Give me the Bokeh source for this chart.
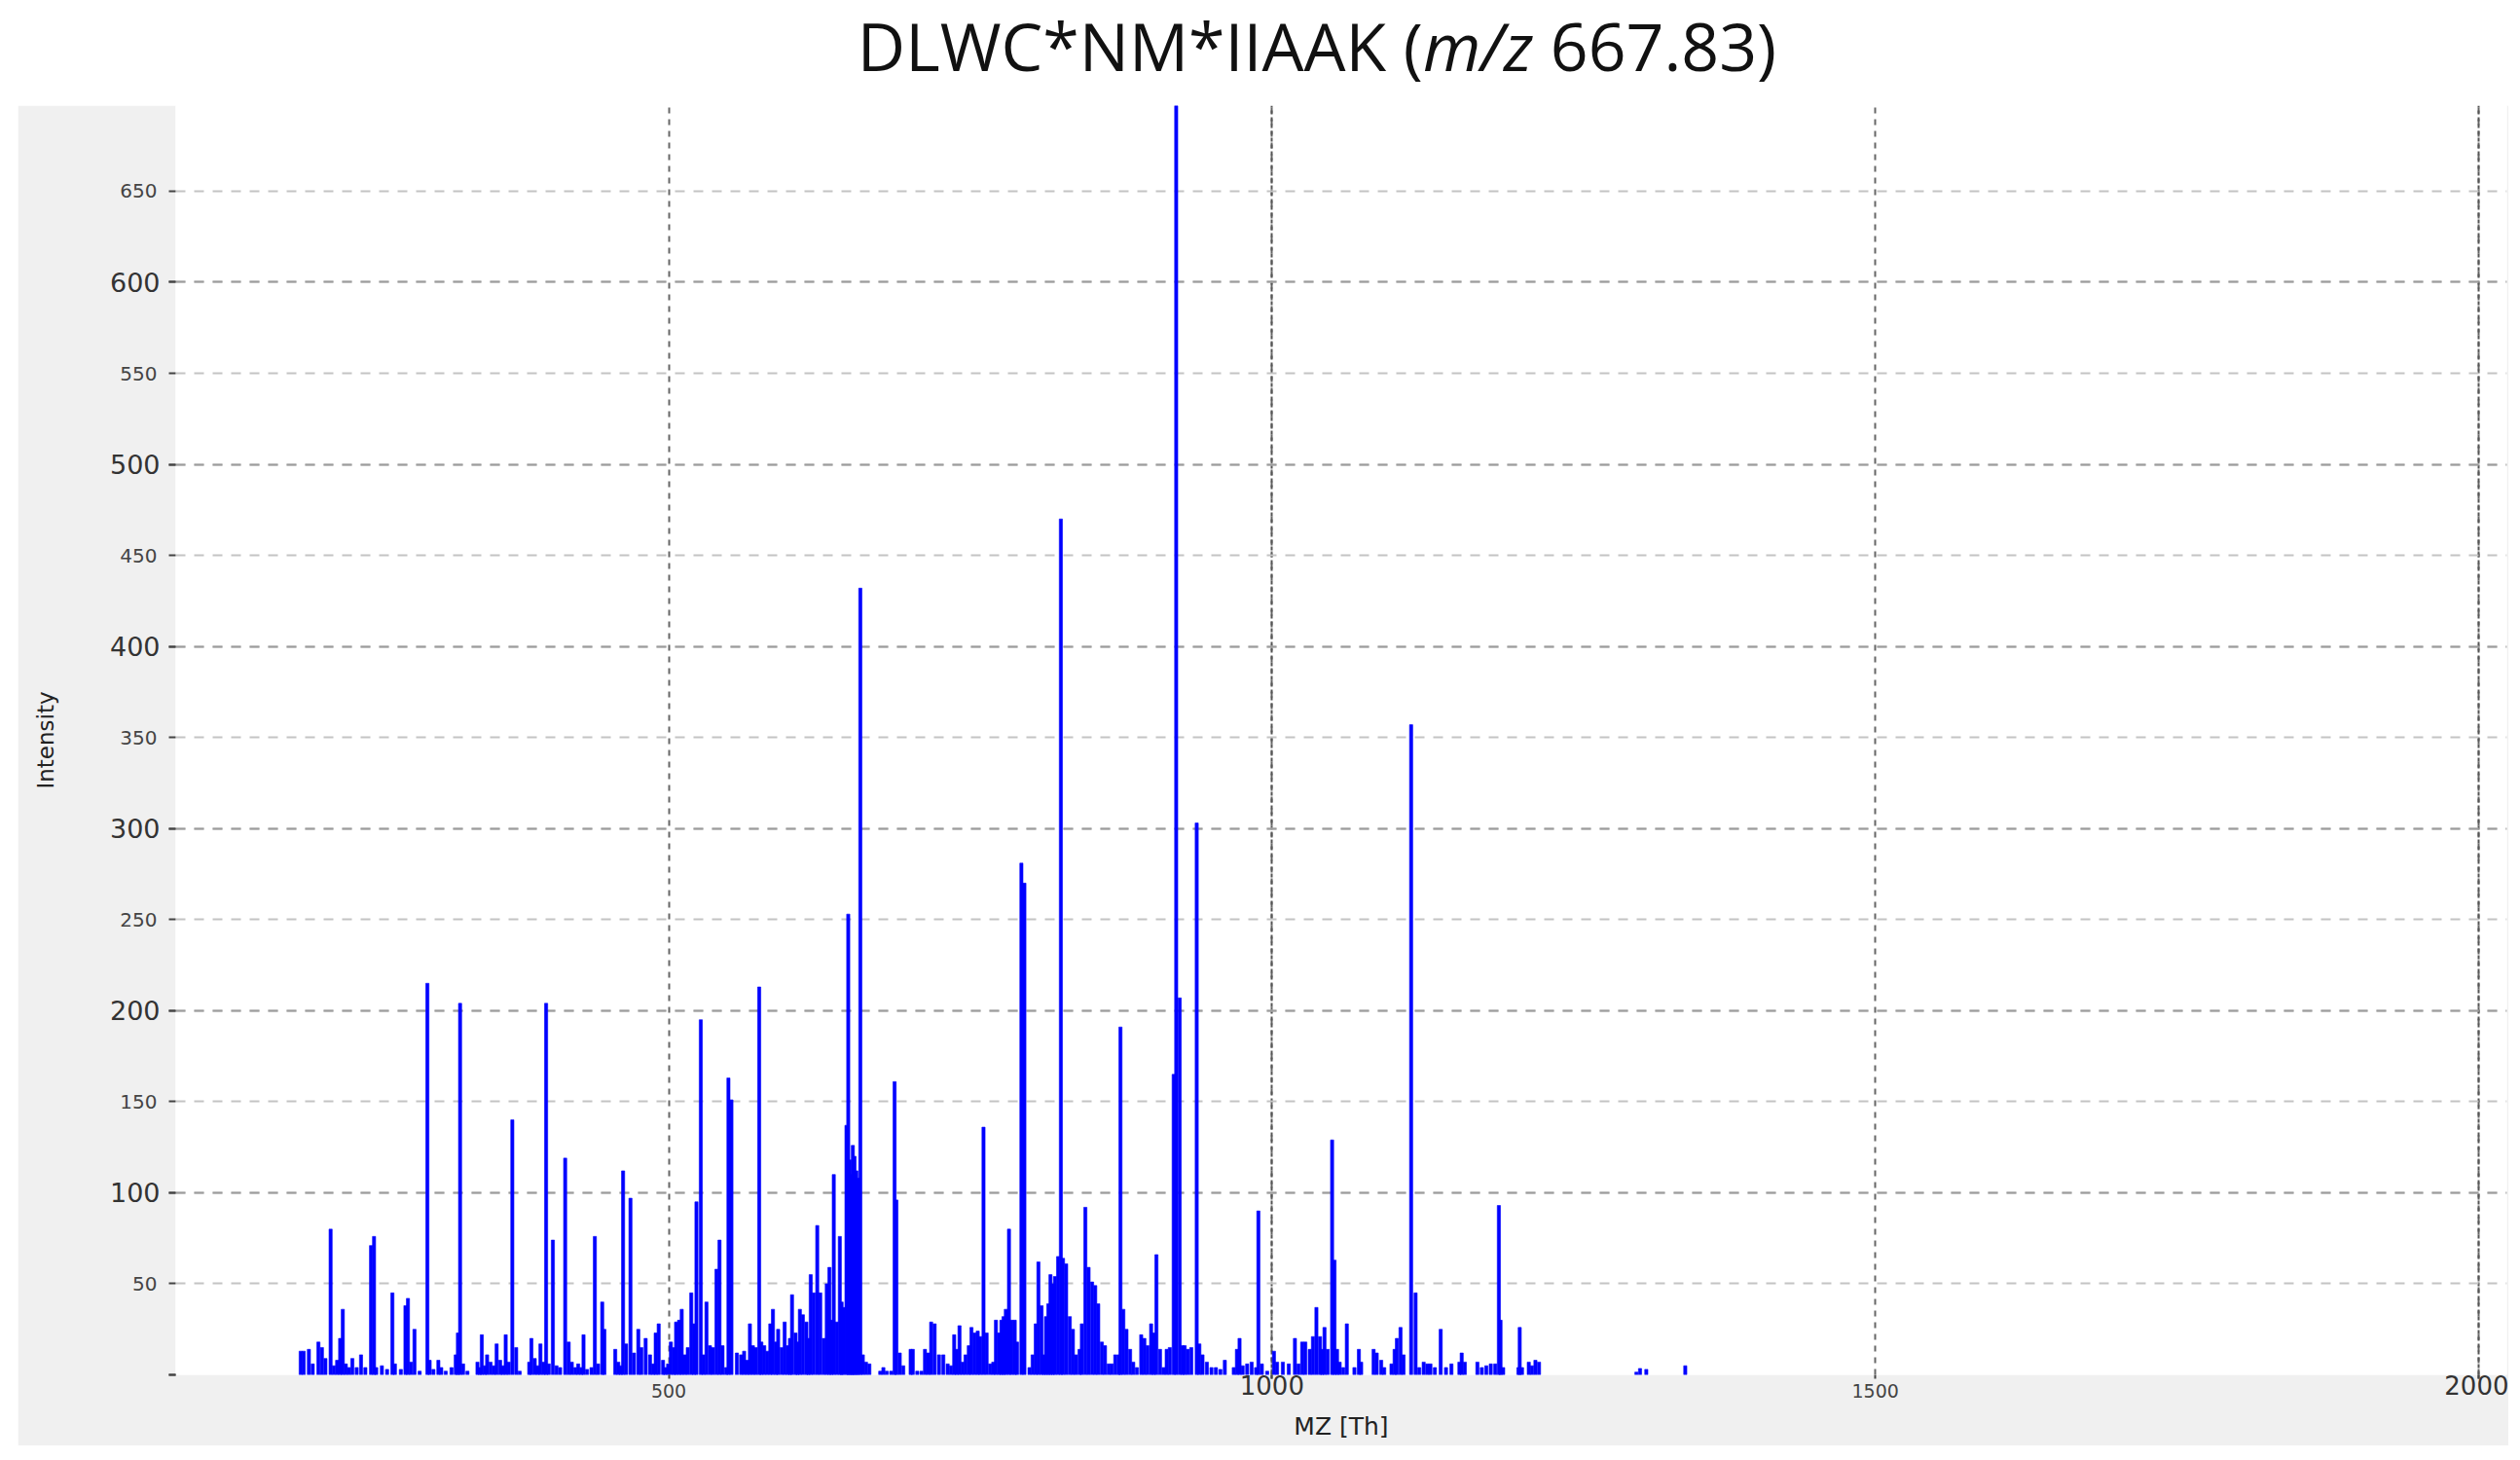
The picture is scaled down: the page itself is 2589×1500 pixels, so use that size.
from bokeh.plotting import figure
from bokeh.models import (ColumnDataSource, Range1d, SingleIntervalTicker, FixedTicker,
                          LinearAxis, Div)
from bokeh.layouts import column
from bokeh.embed import file_html
from bokeh.resources import INLINE

# ---------------- data ----------------
mz = [
    195.0, 197.5, 201.8, 205.0, 209.7, 212.6, 215.5, 219.8, 222.5, 225.2,
    227.7, 229.9, 232.4, 235.0, 237.8, 241.4, 245.0, 248.6, 253.3, 255.8,
    257.6, 262.3, 266.6, 271.0, 273.1, 278.0, 281.8, 283.9, 286.4, 289.3,
    293.6, 300.0, 301.9, 305.0, 309.1, 311.5, 315.2, 320.0, 323.5, 325.3,
    327.1, 329.6, 333.2, 341.5, 343.5, 345.1, 347.5, 349.5, 352.3, 355.0,
    357.4, 360.3, 362.5, 364.9, 367.4, 370.4, 373.6, 376.5, 384.4, 386.2,
    389.0, 391.5, 393.7, 396.3, 398.4, 400.6, 404.0, 407.0, 410.0, 414.2,
    417.1, 419.7, 422.5, 425.0, 427.5, 429.4, 432.3, 436.0, 438.8, 441.5,
    444.9, 446.7, 455.7, 458.2, 460.3, 462.2, 464.7, 468.3, 471.2, 474.8,
    477.3, 480.9, 484.5, 487.0, 489.2, 491.7, 495.3, 497.1, 499.5, 501.8,
    504.3, 506.1, 508.6, 510.8, 513.3, 515.8, 518.7, 520.9, 523.0, 526.6,
    528.8, 531.3, 534.2, 536.7, 539.6, 542.1, 544.6, 547.5, 549.5, 552.0,
    556.5, 560.0, 562.5, 565.0, 567.3, 569.8, 572.2, 575.0, 576.8, 579.2,
    581.7, 584.2, 586.4, 588.9, 590.7, 593.6, 596.1, 598.6, 600.5, 602.2,
    605.1, 606.8, 608.7, 611.2, 614.1, 615.8, 617.7, 620.2, 623.1, 625.6,
    628.5, 631.0, 633.2, 634.8, 636.8, 639.3, 641.8, 643.3, 644.7, 647.3,
    648.8, 650.1, 651.6, 652.6, 654.0, 655.5, 657.0, 658.8, 660.9, 663.5,
    666.3, 675.3, 677.9, 680.7, 684.4, 687.2, 688.7, 691.5, 694.4, 700.5,
    702.3, 706.0, 709.5, 712.4, 715.0, 717.5, 720.4, 724.0, 727.6, 731.2,
    734.0, 736.6, 738.7, 741.0, 743.5, 746.0, 748.7, 750.9, 753.5, 756.1,
    758.3, 760.9, 763.5, 766.4, 769.0, 771.2, 773.8, 775.7, 777.5, 779.4,
    782.0, 784.2, 786.8, 788.7, 792.3, 794.8, 799.0, 801.6, 804.2, 806.4,
    809.0, 810.9, 812.7, 814.6, 816.4, 818.3, 820.1, 822.7, 825.0, 826.8,
    829.4, 832.4, 835.0, 837.5, 840.5, 842.4, 845.3, 848.0, 850.9, 853.5,
    856.0, 859.0, 861.6, 864.6, 867.2, 870.1, 873.0, 874.4, 876.8, 879.4,
    882.4, 885.0, 888.0, 891.6, 894.2, 896.8, 899.8, 902.0, 904.2, 907.2,
    910.1, 912.7, 915.3, 918.5, 920.6, 923.5, 925.8, 927.6, 930.2, 933.1,
    937.6, 939.8, 942.4, 946.0, 949.8, 953.5, 957.2, 960.9, 968.3, 970.9,
    973.1, 975.7, 979.4, 983.1, 986.8, 988.7, 991.6, 996.0, 1001.6, 1004.2,
    1009.0, 1013.9, 1019.0, 1022.0, 1025.0, 1027.6, 1031.3, 1033.9, 1036.8, 1039.8,
    1041.6, 1043.5, 1046.1, 1049.8, 1051.8, 1053.9, 1056.1, 1059.0, 1062.0, 1068.3,
    1072.0, 1073.9, 1084.2, 1086.8, 1090.5, 1093.0, 1099.0, 1101.6, 1103.5, 1106.5,
    1109.0, 1115.3, 1119.0, 1122.0, 1125.7, 1128.7, 1131.3, 1135.0, 1139.8, 1144.2,
    1148.7, 1155.3, 1157.2, 1159.8, 1170.2, 1173.9, 1177.6, 1181.3, 1185.0, 1188.0,
    1189.4, 1191.6, 1204.2, 1205.3, 1207.2, 1212.8, 1215.4, 1218.3, 1221.3, 1302.0,
    1305.0, 1310.2, 1342.5,
]
intensity = [
    13, 13, 14, 6, 18, 15, 9, 80, 5, 8,
    20, 36, 6, 4, 9, 4, 11, 4, 71, 76,
    4, 5, 3, 45, 6, 3, 38, 42, 7, 25,
    2, 215, 8, 3, 8, 4, 2, 4, 11, 23,
    204, 6, 2, 7, 4, 22, 5, 11, 7, 5,
    17, 8, 5, 22, 7, 140, 15, 2, 7, 20,
    9, 5, 17, 7, 204, 6, 74, 5, 4, 119,
    18, 7, 4, 6, 4, 22, 3, 4, 76, 6,
    40, 25, 14, 7, 5, 112, 17, 97, 12, 25,
    15, 20, 11, 6, 23, 28, 8, 4, 6, 18,
    15, 29, 30, 36, 11, 15, 45, 28, 95, 195,
    11, 40, 16, 15, 58, 74, 16, 4, 163, 151,
    12, 11, 13, 8, 28, 16, 15, 213, 18, 16,
    13, 28, 36, 18, 25, 15, 29, 16, 20, 44,
    23, 18, 36, 33, 29, 20, 55, 45, 82, 45,
    20, 50, 59, 30, 110, 29, 76, 40, 37, 137,
    253, 118, 110, 126, 120, 112, 108, 432, 11, 7,
    6, 2, 4, 2, 2, 161, 96, 12, 5, 14,
    14, 2, 2, 14, 12, 29, 28, 11, 11, 6,
    5, 22, 14, 27, 7, 11, 16, 26, 23, 24,
    21, 136, 23, 6, 7, 30, 23, 30, 32, 36,
    80, 30, 30, 18, 281, 270, 4, 11, 28, 62,
    38, 11, 32, 39, 55, 50, 54, 65, 470, 64,
    61, 32, 25, 11, 14, 28, 92, 59, 51, 49,
    39, 18, 16, 6, 6, 11, 11, 191, 36, 25,
    14, 7, 4, 22, 20, 16, 28, 23, 66, 14,
    4, 14, 15, 165, 705, 207, 16, 16, 14, 15,
    303, 17, 11, 7, 4, 4, 3, 8, 4, 14,
    20, 5, 6, 7, 4, 90, 6, 2, 13, 7,
    7, 6, 20, 6, 18, 18, 14, 21, 37, 21,
    14, 26, 14, 129, 63, 14, 7, 4, 28, 4,
    14, 7, 14, 12, 8, 4, 6, 14, 20, 26,
    11, 357, 45, 4, 7, 6, 6, 4, 25, 4,
    6, 7, 12, 7, 7, 4, 5, 6, 6, 93,
    30, 4, 4, 26, 4, 7, 5, 8, 7, 1.5,
    3.5, 3, 5,
]

x_start, x_end = 91.4, 2023.4
y_start, y_end = 0, 697
x_major_step = 1000
y_major_step = 100
x_minor_labels = [500, 1500]
y_minor_labels = [50, 150, 250, 350, 450, 550, 650]

title_html = "DLWC*NM*IIAAK (<i>m/z</i> 667.83)"
x_title = "MZ [Th]"
y_title = "Intensity"

# ---------------- figure ----------------
src = ColumnDataSource(dict(mz=mz, intensity=intensity))

p = figure(
    width=2559, height=1377,
    x_range=Range1d(x_start, x_end), y_range=Range1d(y_start, y_end),
    output_backend="svg", toolbar_location=None,
    background_fill_color="white", border_fill_color="#f0f0f0",
    min_border_left=162, min_border_right=2, min_border_top=0, min_border_bottom=73,
    outline_line_color=None,
)
p.margin = (0, 0, 0, 18)

p.vbar(x="mz", top="intensity", bottom=0, width=2.6, source=src,
       fill_color="#0000ff", line_color="#0000ff", line_width=0.6)

xa = p.xaxis[0]
ya = p.yaxis[0]
xa.ticker = SingleIntervalTicker(interval=x_major_step, num_minor_ticks=2)
ya.ticker = SingleIntervalTicker(interval=y_major_step, num_minor_ticks=2)
ya.major_label_overrides = {0: ""}

for ax in (xa, ya):
    ax.axis_line_color = None
    ax.major_tick_line_color = "#444444"
    ax.minor_tick_line_color = "#444444"
    ax.major_tick_line_width = 2
    ax.minor_tick_line_width = 2
    ax.major_tick_in = 0
    ax.minor_tick_in = 0
    ax.major_label_text_font = "DejaVu Sans"
    ax.major_label_text_color = "#333333"

ya.major_tick_out = 7
ya.minor_tick_out = 7
ya.major_label_standoff = 9
ya.major_label_text_font_size = "27px"

xa.major_tick_out = 4
xa.minor_tick_out = 4
xa.major_label_standoff = -4
xa.major_label_text_font_size = "26px"

# outer axes: smaller labels of the half steps, pulled back next to the big ones,
# and the axis titles
yb = LinearAxis(ticker=FixedTicker(ticks=y_minor_labels),
                axis_line_color=None, major_tick_line_color=None, minor_tick_line_color=None,
                major_tick_out=0, major_tick_in=0, major_label_standoff=-52,
                major_label_text_font="DejaVu Sans", major_label_text_font_size="20px",
                major_label_text_color="#444444",
                axis_label=y_title, axis_label_text_font="DejaVu Sans",
                axis_label_text_font_style="normal", axis_label_text_font_size="23px",
                axis_label_text_color="#222222", axis_label_standoff=60)
p.add_layout(yb, "left")

xb = LinearAxis(ticker=FixedTicker(ticks=x_minor_labels),
                axis_line_color=None, major_tick_line_color=None, minor_tick_line_color=None,
                major_tick_out=0, major_tick_in=0, major_label_standoff=-14,
                major_label_text_font="DejaVu Sans", major_label_text_font_size="19px",
                major_label_text_color="#444444",
                axis_label=x_title, axis_label_text_font="DejaVu Sans",
                axis_label_text_font_style="normal", axis_label_text_font_size="25px",
                axis_label_text_color="#222222", axis_label_standoff=12)
p.add_layout(xb, "below")

# grids
p.ygrid.grid_line_color = "#9c9c9c"
p.ygrid.grid_line_width = 2
p.ygrid.grid_line_dash = "10 9"
p.ygrid.minor_grid_line_color = "#c4c4c4"
p.ygrid.minor_grid_line_width = 2
p.ygrid.minor_grid_line_dash = "10 9"

p.xgrid.grid_line_color = "#555555"
p.xgrid.grid_line_width = 2
p.xgrid.grid_line_dash = "4 3"
p.xgrid.minor_grid_line_color = "#666666"
p.xgrid.minor_grid_line_width = 2
p.xgrid.minor_grid_line_dash = "6 6"

title = Div(
    text=('<div style="width:2577px;box-sizing:border-box;padding-left:129px;'
          'text-align:center;font-family:\'Open Sans\';font-size:68px;line-height:93px;'
          'color:#111111;white-space:nowrap;margin:0;">' + title_html + '</div>'),
    width=2577, height=108, margin=(0, 0, 0, 0),
)

layout = column(title, p, spacing=0)
open("out.html", "w").write(file_html(layout, INLINE))
